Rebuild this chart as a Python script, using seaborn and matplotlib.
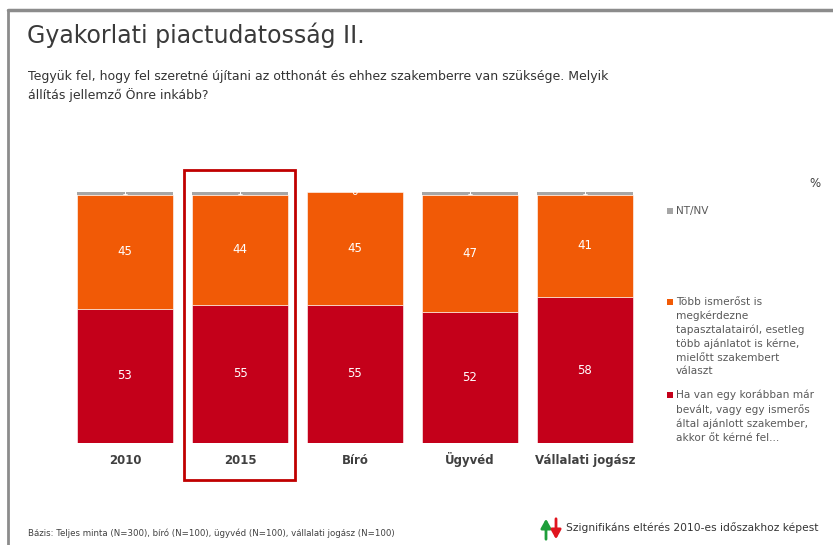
import matplotlib
matplotlib.use("Agg")
import matplotlib.pyplot as plt
import seaborn as sns
import numpy as np

# -----------------------------
# Data
# -----------------------------
categories = ["2010", "2015", "Bíró", "Ügyvéd", "Vállalati jogász"]
ajanlott = [53, 55, 55, 52, 58]       # Ha van egy korábban már bevált ...
tobb_ismeros = [45, 44, 45, 47, 41]   # Több ismerőst is megkérdezne ...
nt_nv = [1, 1, 0, 1, 1]

legend_labels = [
    "NT/NV",
    "Több ismerőst is\nmegkérdezne\ntapasztalatairól, esetleg\ntöbb ajánlatot is kérne,\nmielőtt szakembert\nválaszt",
    "Ha van egy korábban már\nbevált, vagy egy ismerős\náltal ajánlott szakember,\nakkor őt kérné fel...",
]

title = "Gyakorlati piactudatosság II."
question = ("Tegyük fel, hogy fel szeretné újítani az otthonát és ehhez szakemberre van szüksége. Melyik\n"
            "állítás jellemző Önre inkább?")
base_note = "Bázis: Teljes minta (N=300), bíró (N=100), ügyvéd (N=100), vállalati jogász (N=100)"
sig_note = "Szignifikáns eltérés 2010-es időszakhoz képest"

RED = "#C4001A"
ORANGE = "#F15A06"
GREY = "#A6A6A6"
TEXT = "#404040"

W, H = 833, 545


def px(x, y):
    return x / W, 1 - y / H


sns.set_theme(style="white")
plt.rcParams["font.family"] = ["DejaVu Sans"]

fig = plt.figure(figsize=(W / 100, H / 100), dpi=100)
ax = fig.add_axes([67.5 / W, 1 - 443 / H, 575 / W, 251 / H])

red = np.array(ajanlott, dtype=float)
orange = np.array(tobb_ismeros, dtype=float)
grey = np.array(nt_nv, dtype=float)
total = red + orange + grey
red_s = red / total * 100
orange_s = orange / total * 100
grey_s = grey / total * 100

sns.barplot(x=categories, y=red_s, color=RED, width=0.835, ax=ax,
            saturation=1, edgecolor="white", linewidth=0.4)
sns.barplot(x=categories, y=orange_s, bottom=red_s, color=ORANGE, width=0.835, ax=ax,
            saturation=1, edgecolor="white", linewidth=0.4)
sns.barplot(x=categories, y=grey_s, bottom=red_s + orange_s, color=GREY, width=0.835, ax=ax,
            saturation=1, edgecolor="none", linewidth=0)

for i in range(len(categories)):
    ax.text(i, red_s[i] / 2, f"{ajanlott[i]:g}", ha="center", va="center",
            color="white", fontsize=8.5)
    ax.text(i, red_s[i] + orange_s[i] / 2, f"{tobb_ismeros[i]:g}", ha="center", va="center",
            color="white", fontsize=8.5)
    ax.text(i, 100, f"{nt_nv[i]:g}", ha="center", va="center",
            color="white", fontsize=7.5)
    # category labels on a common baseline
    ax.text(i, -8.5, categories[i], ha="center", va="baseline", fontsize=8.5,
            fontweight="bold", color=TEXT)

ax.set_xlim(-0.5, 4.5)
ax.set_ylim(0, 100)
ax.set_yticks([])
ax.set_xticks([])
ax.set_xlabel("")
ax.set_ylabel("")
for s in ax.spines.values():
    s.set_visible(False)

# highlight box around 2015
fig.patches.append(plt.Rectangle(px(184, 480), 111 / W, 310 / H, transform=fig.transFigure,
                                 fill=False, edgecolor="#C00000", linewidth=2))

# slide frame
fig.add_artist(plt.Line2D([8 / W, 1], [1 - 10 / H, 1 - 10 / H], color="#8C8C8C", linewidth=2.5))
fig.add_artist(plt.Line2D([8 / W, 8 / W], [1 - 10 / H, 0], color="#8C8C8C", linewidth=2))

# texts
fig.text(*px(27, 35), title, fontsize=17, color="#3A3A3A", va="center", ha="left")
fig.text(*px(28, 86), question, fontsize=9, color="#333333", va="center", ha="left",
         linespacing=1.5)
fig.text(*px(820, 183), "%", fontsize=8.5, color=TEXT, ha="right", va="center")

# legend
legend_items = [(GREY, legend_labels[0], 211), (ORANGE, legend_labels[1], 302), (RED, legend_labels[2], 395)]
for col, lab, y in legend_items:
    fig.patches.append(plt.Rectangle(px(667, y + 3), 6 / W, 6 / H, transform=fig.transFigure,
                                     facecolor=col, edgecolor="none"))
    fig.text(*px(676, y - 5), lab, fontsize=7.6, color="#595959", va="top", ha="left",
             linespacing=1.42)

fig.text(*px(28, 533), base_note, fontsize=6.2, color="#404040", va="center", ha="left")
fig.text(*px(566, 528), sig_note, fontsize=7.7, color="#333333", va="center", ha="left")

# significance arrows
ax_f = fig.add_axes([0, 0, 1, 1], facecolor="none")
ax_f.set_xlim(0, W)
ax_f.set_ylim(H, 0)
ax_f.axis("off")
ax_f.annotate("", xy=(546, 516), xytext=(546, 542),
              arrowprops=dict(arrowstyle="-|>,head_width=0.25,head_length=0.45", color="#1E9E3A", lw=2))
ax_f.annotate("", xy=(556, 542), xytext=(556, 516),
              arrowprops=dict(arrowstyle="-|>,head_width=0.25,head_length=0.45", color="#E0141E", lw=2))

fig.savefig("out.png", dpi=100)
